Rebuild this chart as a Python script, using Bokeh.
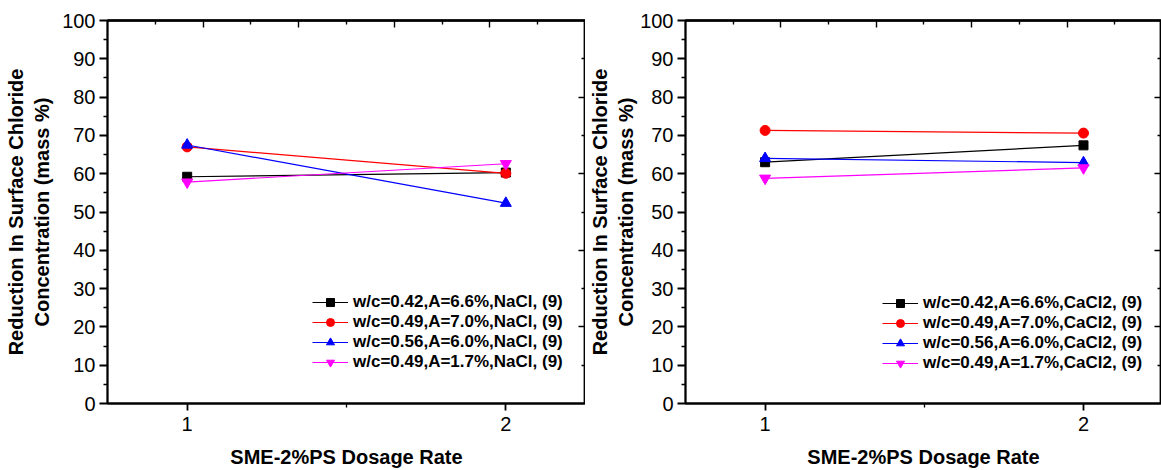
from bokeh.plotting import figure
from bokeh.models import Range1d, LinearAxis, FixedTicker, Legend, LegendItem
from bokeh.layouts import row
from bokeh.embed import file_html
from bokeh.resources import INLINE

# ---------------- data ----------------
dosage = [1, 2]
dosage_ticks = [1, 2]
dosage_minor = [1.5]

nacl_w042_a66 = [59.2, 60.3]
nacl_w049_a70 = [67.0, 60.1]
nacl_w056_a60 = [67.5, 52.3]
nacl_w049_a17 = [57.8, 62.6]

cacl2_w042_a66 = [63.0, 67.4]
cacl2_w049_a70 = [71.3, 70.6]
cacl2_w056_a60 = [64.0, 62.9]
cacl2_w049_a17 = [58.8, 61.5]

nacl_labels = ["w/c=0.42,A=6.6%,NaCl, (9)", "w/c=0.49,A=7.0%,NaCl, (9)",
               "w/c=0.56,A=6.0%,NaCl, (9)", "w/c=0.49,A=1.7%,NaCl, (9)"]
cacl2_labels = ["w/c=0.42,A=6.6%,CaCl2, (9)", "w/c=0.49,A=7.0%,CaCl2, (9)",
                "w/c=0.56,A=6.0%,CaCl2, (9)", "w/c=0.49,A=1.7%,CaCl2, (9)"]

y_major = [0, 10, 20, 30, 40, 50, 60, 70, 80, 90, 100]
y_minor = [5, 15, 25, 35, 45, 55, 65, 75, 85, 95]
right_long = [20, 40, 60, 80]
right_short = [10, 30, 50, 70, 90]
top_long = [2, 4, 6, 8]
top_short = [1, 3, 5, 7, 9]

x_title = "SME-2%PS Dosage Rate"
y_title = "Reduction In Surface Chloride\nConcentration (mass %)"

# ---------------- styles ----------------
COLORS = ["black", "#ff0000", "#0000ff", "#ff00ff"]
MARKERS = ["square", "circle", "triangle", "inverted_triangle"]
MSIZES = [9, 10, 11, 11]
FONT = "Liberation Sans"
AXW = 1.8


def tick_only_axis(ticks, length, **kw):
    # axis carrying only (unlabelled) inward ticks
    ax = LinearAxis(ticker=FixedTicker(ticks=[], minor_ticks=ticks), **kw)
    ax.major_tick_in = 0
    ax.major_tick_out = 0
    ax.minor_tick_in = length
    ax.minor_tick_out = 0
    ax.major_label_standoff = 0
    ax.axis_line_width = AXW
    ax.minor_tick_line_width = 1.4
    return ax


def make_panel(series, labels, width, mb_left, mb_right, mb_top, mb_bottom,
               x_end, top_end, legend_loc, ylab_standoff):
    p = figure(width=width, height=470, output_backend="svg", toolbar_location=None,
               x_range=Range1d(0.75, x_end), y_range=Range1d(0, 100),
               min_border_left=mb_left, min_border_right=mb_right,
               min_border_top=mb_top, min_border_bottom=mb_bottom,
               x_axis_label=x_title, y_axis_label=y_title)
    p.xgrid.visible = False
    p.ygrid.visible = False
    p.outline_line_color = "black"
    p.outline_line_width = AXW
    p.outline_line_alpha = 1
    p.background_fill_color = "white"
    p.border_fill_color = "white"

    xa = p.xaxis[0]
    xa.ticker = FixedTicker(ticks=dosage_ticks, minor_ticks=dosage_minor)
    xa.major_tick_in = 0
    xa.major_tick_out = 7
    xa.minor_tick_in = 0
    xa.minor_tick_out = 4
    xa.major_label_standoff = 6
    xa.axis_label_standoff = 12

    ya = p.yaxis[0]
    ya.ticker = FixedTicker(ticks=y_major, minor_ticks=y_minor)
    ya.major_tick_in = 0
    ya.major_tick_out = 8
    ya.minor_tick_in = 0
    ya.minor_tick_out = 4
    ya.major_label_standoff = 4
    ya.axis_label_standoff = ylab_standoff

    for ax in (xa, ya):
        ax.axis_line_width = AXW
        ax.major_tick_line_width = AXW
        ax.minor_tick_line_width = 1.3
        ax.major_label_text_font = FONT
        ax.major_label_text_font_size = "20px"
        ax.major_label_text_color = "black"
        ax.axis_label_text_font = FONT
        ax.axis_label_text_font_size = "20px"
        ax.axis_label_text_font_style = "bold"
        ax.axis_label_text_color = "black"

    # top axis (own scale) and right axis: inward ticks only, no labels
    p.extra_x_ranges = {"top": Range1d(0, top_end)}
    p.add_layout(tick_only_axis(top_long, 7, x_range_name="top"), "above")
    p.add_layout(tick_only_axis(top_short, 4, x_range_name="top"), "above")
    p.add_layout(tick_only_axis(right_long, 7), "right")
    p.add_layout(tick_only_axis(right_short, 4), "right")

    items = []
    for ys, lab, c, m, s in zip(series, labels, COLORS, MARKERS, MSIZES):
        ln = p.line(dosage, ys, line_color=c, line_width=1.2)
        sc = p.scatter(dosage, ys, marker=m, size=s, fill_color=c, line_color=c)
        items.append(LegendItem(label=lab, renderers=[ln, sc]))

    leg = Legend(items=items, location=legend_loc, glyph_width=36, glyph_height=20,
                 label_height=20, spacing=0, padding=0, margin=0, label_standoff=5,
                 label_text_font=FONT, label_text_font_size="17px",
                 label_text_font_style="bold", label_text_color="black",
                 border_line_alpha=0, background_fill_alpha=0)
    p.add_layout(leg)
    return p


p1 = make_panel([nacl_w042_a66, nacl_w049_a70, nacl_w056_a60, nacl_w049_a17],
                nacl_labels, 585, 107, 0, 18, 66, 2.25, 10.0, (205, 31), 6)
p2 = make_panel([cacl2_w042_a66, cacl2_w049_a70, cacl2_w056_a60, cacl2_w049_a17],
                cacl2_labels, 576, 99, 0, 20, 65, 2.245, 9.98, (197, 30), 0)

layout = row(p1, p2)
open("out.html", "w").write(file_html(layout, INLINE))
